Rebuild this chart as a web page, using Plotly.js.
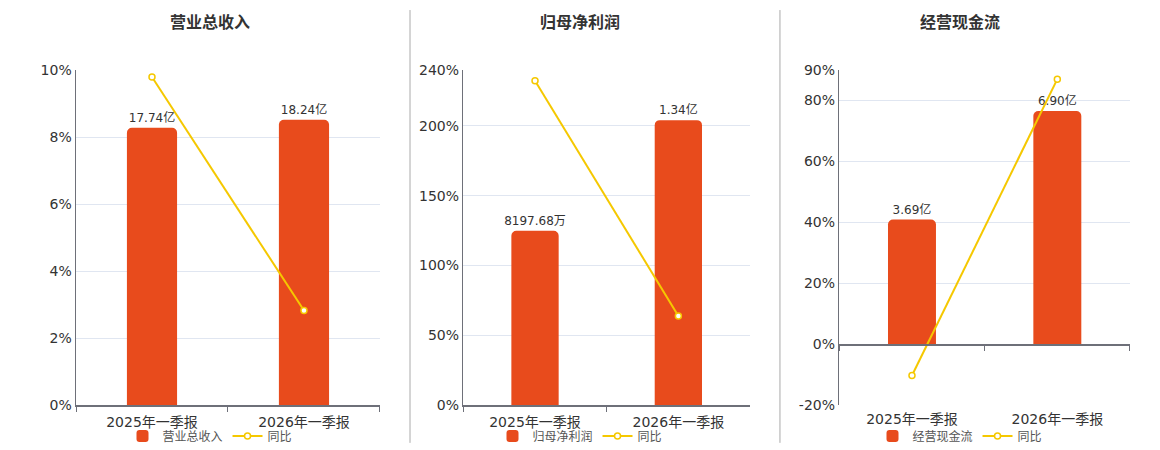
<!DOCTYPE html>
<html>
<head>
<meta charset="utf-8">
<script src="https://cdn.plot.ly/plotly-3.0.1.min.js"></script>
<style>
  html, body { margin: 0; padding: 0; background: #fff; }
  #chart { width: 1160px; height: 450px; }
</style>
</head>
<body>
<div id="chart"></div>
<script>
// periods shown in every panel
const periods = ['2025年一季报', '2026年一季报'];

// panel titles / bar series names
const titles = ['营业总收入', '归母净利润', '经营现金流'];

// bar values, in 亿
const revenue = [17.74, 18.24];
const netProfit = [0.819768, 1.34];
const cashFlow = [3.69, 6.90];

// year-on-year growth, in %
const revenueYoy = [9.79, 2.82];
const netProfitYoy = [232.3, 63.8];
const cashFlowYoy = [-10.3, 87.0];

// percent ticks for each panel
const revenueTicks = [0, 2, 4, 6, 8, 10];
const netProfitTicks = [0, 50, 100, 150, 200, 240];
const cashFlowTicks = [-20, 0, 20, 40, 60, 80, 90];

const barColor = '#e84b1c';
const lineColor = '#f5c800';
const axisColor = '#6e7079';
const gridColor = '#e0e6f1';
const font = '"DejaVu Sans", "Noto Sans CJK SC", sans-serif';

function fmt(v) {
	return v >= 1 ? v.toFixed(2) + '亿' : (v * 10000).toFixed(2) + '万';
}

const bars = [revenue, netProfit, cashFlow];
const yoys = [revenueYoy, netProfitYoy, cashFlowYoy];
const legends = ['legend', 'legend2', 'legend3'];

let data = [];
for (let i = 0; i < 3; i++) {
	const n = i + 1;
	const xa = n === 1 ? 'x' : 'x' + n;
	data.push({
		x: periods,
		y: bars[i],
		type: 'bar',
		name: titles[i],
		xaxis: xa,
		yaxis: n === 1 ? 'y' : 'y' + n,
		width: 0.33,
		marker: {color: barColor, cornerradius: 5},
		text: bars[i].map(fmt),
		textposition: 'outside',
		constraintext: 'none',
		textfont: {size: 12, color: '#333', family: font},
		cliponaxis: false,
		legend: legends[i],
		hoverinfo: 'skip'
	});
	data.push({
		x: periods,
		y: yoys[i],
		type: 'scatter',
		mode: 'lines+markers',
		name: '同比',
		xaxis: xa,
		yaxis: 'y' + (n + 3),
		line: {color: lineColor, width: 2},
		marker: {symbol: 'circle', size: 6, color: '#fff', line: {color: lineColor, width: 1.5}},
		cliponaxis: false,
		legend: legends[i],
		hoverinfo: 'skip'
	});
}
// carrier for the zero-level category axis of the third panel
data.push({
	x: periods,
	y: [null, null],
	type: 'scatter',
	mode: 'lines',
	xaxis: 'x4',
	yaxis: 'y3',
	showlegend: false,
	hoverinfo: 'skip'
});

const domains = [[0, 0.2884], [0.3675, 0.6395], [0.7242, 1.0]];
const centers = [0.1271, 0.4782, 0.8387];
const legendX = [210 / 1160, 580 / 1160, 960 / 1160];

function xAxis(dom, anchor, showline) {
	return {
		domain: dom,
		anchor: anchor,
		type: 'category',
		categoryarray: periods,
		range: [-0.5, 1.5],
		showline: showline,
		linecolor: axisColor,
		linewidth: 1.5,
		ticks: showline ? 'outside' : '',
		tickson: 'boundaries',
		ticklen: 5,
		tickcolor: axisColor,
		ticklabelstandoff: 4,
		showgrid: false,
		tickfont: {size: 14, color: '#333', family: font},
		fixedrange: true
	};
}

function pctAxis(over, anchor, ticks) {
	return {
		overlaying: over,
		anchor: anchor,
		side: 'left',
		range: [ticks[0], ticks[ticks.length - 1]],
		tickmode: 'array',
		tickvals: ticks,
		ticktext: ticks.map(t => t + '%'),
		showgrid: true,
		gridcolor: gridColor,
		gridwidth: 1,
		zeroline: false,
		showline: true,
		linecolor: axisColor,
		linewidth: 1.5,
		ticks: '',
		tickfont: {size: 14, color: '#333', family: font},
		fixedrange: true
	};
}

function legend(cx) {
	return {
		orientation: 'h',
		xref: 'container',
		yref: 'container',
		x: cx,
		xanchor: 'center',
		y: 14 / 450,
		yanchor: 'middle',
		font: {size: 12, color: '#555', family: font},
		bgcolor: 'rgba(0,0,0,0)'
	};
}

let layout = {
	width: 1160,
	height: 450,
	margin: {l: 76, r: 30, t: 70, b: 45},
	paper_bgcolor: '#fff',
	plot_bgcolor: '#fff',
	font: {family: font},
	xaxis: xAxis(domains[0], 'y', true),
	xaxis2: xAxis(domains[1], 'y2', true),
	xaxis3: xAxis(domains[2], 'y3', false),
	xaxis4: Object.assign(xAxis(domains[2], 'free', true), {
		overlaying: 'x3', position: 20 / 110, showticklabels: false
	}),
	yaxis: {anchor: 'x', range: [0, 21.43], visible: false, fixedrange: true},
	yaxis2: {anchor: 'x2', range: [0, 1.576], visible: false, fixedrange: true},
	yaxis3: {anchor: 'x3', range: [-1.804, 8.118], visible: false, fixedrange: true},
	yaxis4: pctAxis('y', 'x', revenueTicks),
	yaxis5: pctAxis('y2', 'x2', netProfitTicks),
	yaxis6: pctAxis('y3', 'x3', cashFlowTicks),
	legend: legend(legendX[0]),
	legend2: legend(legendX[1]),
	legend3: legend(legendX[2]),
	annotations: titles.map((t, i) => ({
		text: '<b>' + t + '</b>',
		xref: 'paper', yref: 'paper',
		x: centers[i], y: 1.143,
		xanchor: 'center', yanchor: 'middle',
		showarrow: false,
		font: {size: 16, color: '#333', family: font}
	})),
	shapes: [0.3169, 0.6679].map(px => ({
		type: 'line',
		xref: 'paper', yref: 'paper',
		x0: px, x1: px, y0: -0.113, y1: 1.179,
		line: {color: '#aaaaaa', width: 1}
	}))
};

Plotly.newPlot('chart', data, layout, {displayModeBar: false, staticPlot: true});
</script>
</body>
</html>
